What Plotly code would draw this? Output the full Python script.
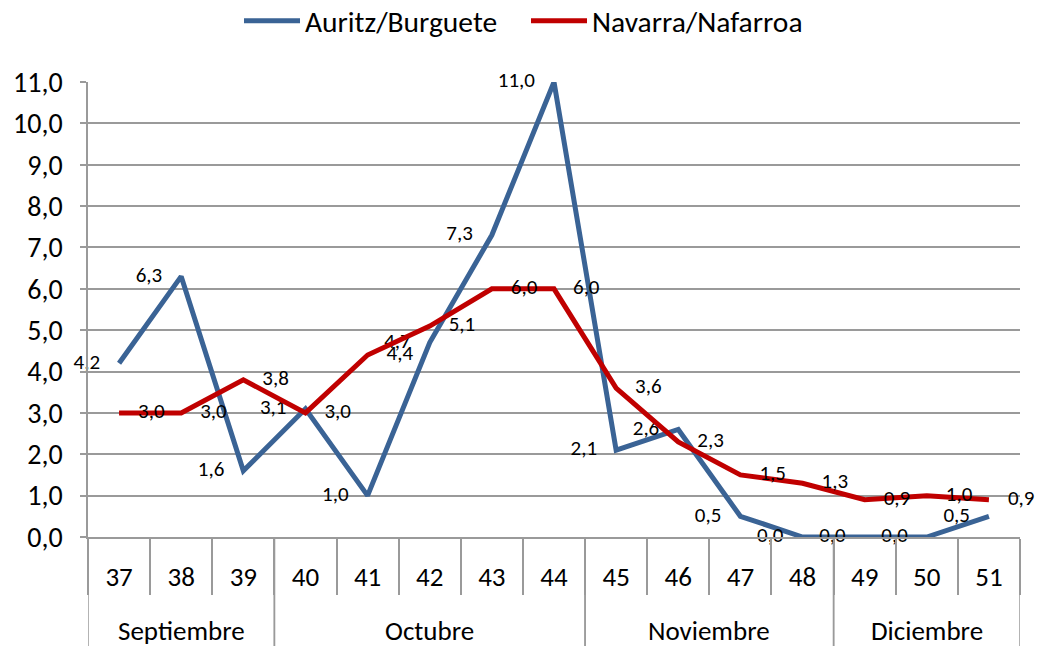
import plotly.graph_objects as go

weeks = ["37", "38", "39", "40", "41", "42", "43", "44", "45", "46", "47", "48", "49", "50", "51"]
months = ["Septiembre"] * 3 + ["Octubre"] * 5 + ["Noviembre"] * 4 + ["Diciembre"] * 3
auritz = [4.2, 6.3, 1.6, 3.1, 1.0, 4.7, 7.3, 11.0, 2.1, 2.6, 0.5, 0.0, 0.0, 0.0, 0.5]
navarra = [3.0, 3.0, 3.8, 3.0, 4.4, 5.1, 6.0, 6.0, 3.6, 2.3, 1.5, 1.3, 0.9, 1.0, 0.9]
yticks = [0, 1, 2, 3, 4, 5, 6, 7, 8, 9, 10, 11]

FONT = "Carlito, Calibri, 'Liberation Sans Narrow', sans-serif"
GRID = "#9a9a9a"
W, H = 1041, 646
ML, MR, MT, MB = 88, 21, 82, 109
PH = H - MT - MB
PAD = "\u00a0" * 4

fig = go.Figure()
fig.add_trace(go.Scatter(
    x=weeks, y=auritz, name="Auritz/Burguete", mode="lines+text", cliponaxis=False,
    line=dict(color="#3A6395", width=5), texttemplate="%{y:.1f}" + PAD,
    textposition="middle left", textfont=dict(size=21, color="black", family=FONT),
))
fig.add_trace(go.Scatter(
    x=weeks, y=navarra, name="Navarra/Nafarroa", mode="lines+text", cliponaxis=False,
    line=dict(color="#C00000", width=5), texttemplate=PAD + "%{y:.1f}",
    textposition="middle right", textfont=dict(size=21, color="black", family=FONT),
))

# month groups: dividers and labels
groups = []
for i, m in enumerate(months):
    if not groups or groups[-1][0] != m:
        groups.append([m, i, i])
    else:
        groups[-1][2] = i
shapes = []
annotations = []
for m, a, b in groups:
    annotations.append(dict(x=(a + b) / 2, xref="x", y=-(630 - (MT + PH)) / PH, yref="paper",
                            text=m, showarrow=False, yanchor="middle",
                            font=dict(size=27, family=FONT, color="black")))
    for edge in (a - 0.5, b + 0.5):
        shapes.append(dict(type="line", xref="x", yref="paper", x0=edge, x1=edge,
                           y0=0, y1=-MB / PH, line=dict(color=GRID, width=1.5)))

fig.update_layout(
    width=W, height=H,
    margin=dict(l=ML, r=MR, t=MT, b=MB, autoexpand=False),
    paper_bgcolor="white", plot_bgcolor="white",
    separators=",.",
    font=dict(family=FONT, size=27, color="black"),
    showlegend=True,
    legend=dict(orientation="h", x=526 / W, xref="container", xanchor="center",
                y=1 - 21 / H, yanchor="middle", yref="container",
                font=dict(size=29.5, family=FONT), itemwidth=56,
                entrywidth=216, entrywidthmode="pixels"),
    shapes=shapes, annotations=annotations,
)
fig.update_yaxes(range=[0, 11], tickvals=yticks, tickformat=".1f", showgrid=True,
                 gridcolor=GRID, gridwidth=1.5, showline=True, linecolor=GRID, linewidth=1.5,
                 ticks="outside", ticklen=6, tickcolor=GRID, tickwidth=1.5, zeroline=False,
                 automargin=False, ticklabelstandoff=12, tickfont=dict(size=28, family=FONT))
fig.update_xaxes(type="category", range=[-0.5, len(weeks) - 0.5], showline=True,
                 linecolor=GRID, linewidth=1.5,
                 ticks="outside", ticklen=56, tickcolor=GRID, tickwidth=1.5,
                 tickson="boundaries", ticklabelstandoff=15, automargin=False,
                 tickfont=dict(size=27, family=FONT), showgrid=False)

fig.write_html("out.html", config={"displayModeBar": False},
               post_script="document.body.style.margin='0';")
